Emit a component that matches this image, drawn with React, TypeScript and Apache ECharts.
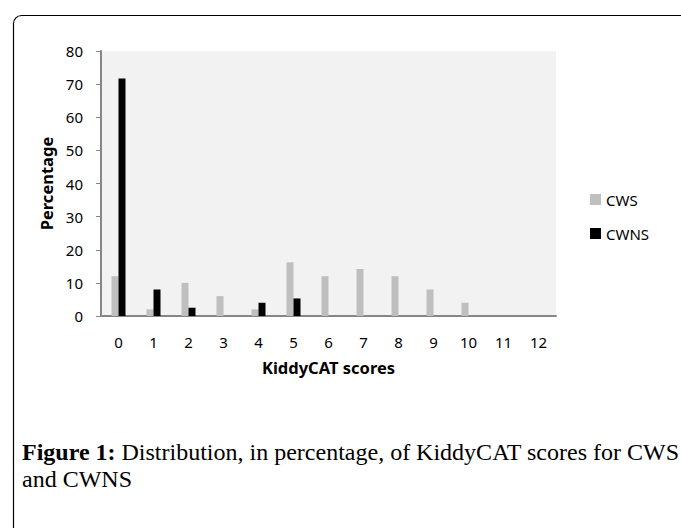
import React, { useEffect, useRef } from "react";
import * as echarts from "echarts";

const categories = ["0", "1", "2", "3", "4", "5", "6", "7", "8", "9", "10", "11", "12"];
const cwsValues = [12, 2, 10, 6, 2, 16.2, 12, 14.2, 12, 8, 4, 0, 0];
const cwnsValues = [71.7, 8, 2.5, 0, 4, 5.3, 0, 0, 0, 0, 0, 0, 0];
const yTicks = { min: 0, max: 80, interval: 10 };

export default function App() {
  const ref = useRef<HTMLDivElement>(null);
  useEffect(() => {
    document.body.style.margin = "0";
    const chart = echarts.init(ref.current!, null, { renderer: "svg" });
    const font = "'Noto Sans', 'Open Sans', sans-serif";
    chart.setOption({
      animation: false,
      backgroundColor: "#ffffff",
      grid: {
        left: 101,
        top: 51,
        width: 455,
        height: 265,
        show: true,
        backgroundColor: "#f2f2f2",
        borderWidth: 0,
      },
      legend: {
        orient: "vertical",
        left: 585,
        top: 187,
        itemWidth: 11,
        itemHeight: 11,
        itemGap: 19,
        icon: "rect",
        textStyle: { fontFamily: font, fontSize: 15, color: "#000" },
        data: ["CWS", "CWNS"],
      },
      xAxis: {
        type: "category",
        data: categories,
        name: "KiddyCAT scores",
        nameLocation: "middle",
        nameGap: 43,
        nameTextStyle: { fontFamily: font, fontSize: 16.5, fontWeight: "bold", color: "#000" },
        axisLine: { lineStyle: { color: "#868686", width: 2 } },
        axisTick: { show: false },
        axisLabel: { fontFamily: font, fontSize: 15, color: "#000", margin: 18 },
      },
      yAxis: {
        type: "value",
        min: yTicks.min,
        max: yTicks.max,
        interval: yTicks.interval,
        name: "Percentage",
        nameLocation: "middle",
        nameGap: 46,
        nameTextStyle: { fontFamily: font, fontSize: 16.5, fontWeight: "bold", color: "#000" },
        axisLine: { show: true, lineStyle: { color: "#868686", width: 2 } },
        axisTick: { show: true, length: 5, lineStyle: { color: "#868686", width: 1 } },
        splitLine: { show: false },
        axisLabel: { fontFamily: font, fontSize: 15, color: "#000", margin: 18 },
      },
      series: [
        {
          name: "CWS",
          type: "bar",
          data: cwsValues,
          barWidth: 7,
          barGap: "0%",
          itemStyle: { color: "#bfbfbf" },
        },
        {
          name: "CWNS",
          type: "bar",
          data: cwnsValues,
          barWidth: 7,
          barGap: "0%",
          itemStyle: { color: "#000000" },
        },
      ],
      graphic: [
        {
          type: "rect",
          shape: { x: 13.5, y: 15.5, width: 720, height: 600, r: 8 },
          style: { fill: "none", stroke: "#000", lineWidth: 1.2 },
          silent: true,
        },
        {
          type: "text",
          left: 22,
          top: 438,
          style: {
            text: "{b|Figure 1:} Distribution, in percentage, of KiddyCAT scores for CWS\nand CWNS",
            font: "24px 'Liberation Serif', serif",
            fill: "#000",
            lineHeight: 27,
            rich: {
              b: { fontFamily: "'Liberation Serif', serif", fontSize: 24, fontWeight: "bold", fill: "#000", lineHeight: 27 },
            },
          },
        },
      ],
    });
    return () => chart.dispose();
  }, []);
  return <div ref={ref} style={{ width: 681, height: 528 }} />;
}
